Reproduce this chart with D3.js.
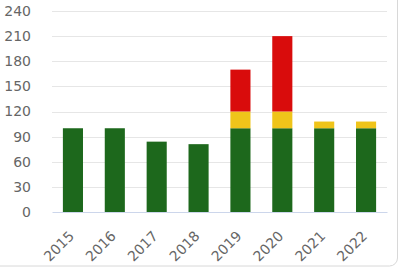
<!DOCTYPE html>
<html>
<head>
<meta charset="utf-8">
<script src="https://cdn.jsdelivr.net/npm/d3@7"></script>
<style>
  html, body { margin: 0; padding: 0; background: #fff; }
  svg { display: block; font-family: "DejaVu Sans", sans-serif; }
</style>
</head>
<body>
<svg id="chart" width="400" height="268"></svg>
<script>
// chart data
const years = ['2015', '2016', '2017', '2018', '2019', '2020', '2021', '2022'];
const greenValues = [100, 100, 84, 81, 100, 100, 100, 100];
const yellowValues = [0, 0, 0, 0, 20, 20, 8, 8];
const redValues = [0, 0, 0, 0, 50, 90, 0, 0];
const yTicks = [0, 30, 60, 90, 120, 150, 180, 210, 240];

const seriesKeys = ['green', 'yellow', 'red'];
const colors = { green: '#1d681c', yellow: '#efc41a', red: '#d90c0c' };

const rows = years.map(function(y, i) {
    return { year: y, green: greenValues[i], yellow: yellowValues[i], red: redValues[i] };
});

const svg = d3.select('#chart');
const margin = { top: 11, right: 13, bottom: 56, left: 52 };
const width = 400 - margin.left - margin.right;
const height = 268 - margin.top - margin.bottom;

// outer frame (partly outside the view)
svg.append('rect')
    .attr('x', -10)
    .attr('y', -10)
    .attr('width', 407.5)
    .attr('height', 276)
    .attr('rx', 8)
    .attr('fill', 'none')
    .attr('stroke', '#d8d8d8')
    .attr('stroke-width', 1);

const g = svg.append('g')
    .attr('transform', 'translate(' + margin.left + ',' + margin.top + ')');

const xScale = d3.scaleBand().domain(years).range([0, width]).paddingInner(0.52).paddingOuter(0.26);
const yScale = d3.scaleLinear().domain([0, 240]).range([height, 0]);

// gridlines
g.append('g')
    .selectAll('line')
    .data(yTicks.filter(function(d) { return d > 0; }))
    .join('line')
    .attr('x1', 0)
    .attr('x2', width)
    .attr('y1', function(d) { return Math.round(yScale(d)) + 0.5; })
    .attr('y2', function(d) { return Math.round(yScale(d)) + 0.5; })
    .attr('stroke', '#e6e6e6')
    .attr('stroke-width', 1);

// y axis labels
const yAxis = g.append('g')
    .call(d3.axisLeft(yScale).tickValues(yTicks).tickSize(0).tickPadding(21));
yAxis.select('.domain').remove();
yAxis.selectAll('text')
    .attr('fill', '#666')
    .style('font-size', '14px')
    .style('font-family', '"DejaVu Sans", sans-serif');

// stacked bars
const stacked = d3.stack().keys(seriesKeys)(rows);

g.append('g')
    .selectAll('g')
    .data(stacked)
    .join('g')
    .attr('fill', function(d) { return colors[d.key]; })
    .selectAll('rect')
    .data(function(d) { return d.filter(function(p) { return p[1] > p[0]; }); })
    .join('rect')
    .attr('x', function(d) { return xScale(d.data.year); })
    .attr('y', function(d) { return yScale(d[1]); })
    .attr('width', xScale.bandwidth())
    .attr('height', function(d) { return yScale(d[0]) - yScale(d[1]); });

// x axis
const xAxis = g.append('g')
    .attr('transform', 'translate(0,' + height + ')')
    .call(d3.axisBottom(xScale).tickSize(0).tickPadding(0));
xAxis.select('.domain')
    .attr('stroke', '#ccd6eb')
    .attr('stroke-width', 1);
xAxis.selectAll('text')
    .attr('fill', '#666')
    .style('font-size', '14px')
    .style('font-family', '"DejaVu Sans", sans-serif')
    .attr('text-anchor', 'end')
    .attr('dy', '0')
    .attr('transform', 'translate(2,25) rotate(-45)');
</script>
</body>
</html>
